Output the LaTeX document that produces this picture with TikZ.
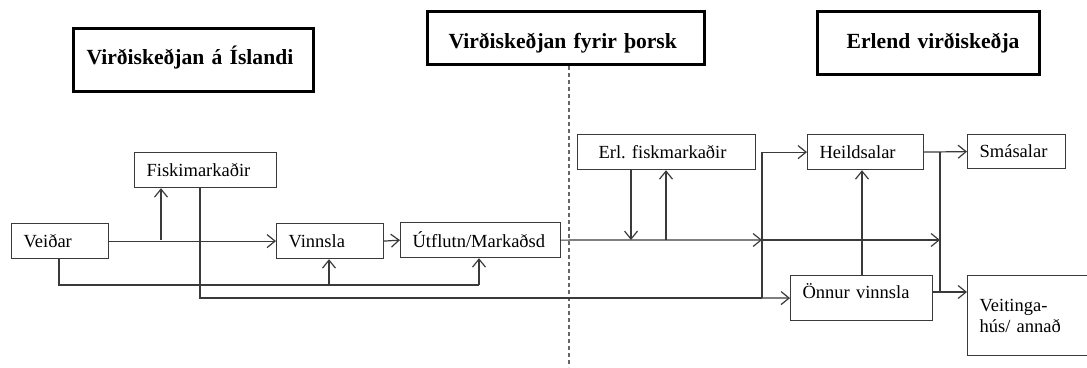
\documentclass[tikz,border=0pt]{standalone}
\usepackage{fontspec}
\setmainfont{Liberation Serif}
\usetikzlibrary{arrows.meta,calc}
\definecolor{ln}{HTML}{3A3A3A}
\tikzset{
  arr/.style={draw=ln,line width=1.2pt,-{Straight Barb[length=8pt,width=13pt,line width=1.2pt]}},
  ln/.style={draw=ln,line width=1.2pt},
  bx/.style={draw=ln,line width=1.2pt,rectangle,anchor=north west,inner xsep=12pt,inner ysep=0pt,align=left,
     font=\fontsize{18.5}{21}\selectfont},
  tb/.style={draw=black,line width=3pt,rectangle,anchor=north west,inner ysep=0pt,
     font=\fontsize{21.6}{24}\selectfont\bfseries}
}
\begin{document}
\begin{tikzpicture}[x=1pt,y=-1pt]
\useasboundingbox (0,0) rectangle (1087,367);
\begin{scope}
\clip (0,0) rectangle (1087,367);
% title boxes
\node[tb,inner xsep=13pt,text width=214pt,minimum height=63pt,align=left,text height=14.5pt,text depth=4.7pt] (t1) at (72,27) {Virðiskeðjan á Íslandi};
\node[tb,inner xsep=21pt,text width=235pt,minimum height=53pt,align=left,text height=25pt,text depth=4.6pt] (t2) at (426,10) {Virðiskeðjan fyrir þorsk};
\node[tb,inner xsep=20pt,text width=182pt,minimum height=63pt,align=right] (t3) at (816,10) {Erlend virðiskeðja};
% dashed divider
\coordinate (dv) at (569,367);
\draw[draw=gray!80!black,line width=1.1pt,dash pattern=on 4pt off 3pt] (t2.south -| dv) -- (dv);
% process boxes
\node[bx,text width=118pt,minimum height=35pt] (fm) at (134,152) {Fiskimarkaðir};
\node[bx,text width=73pt,minimum height=35pt] (vd) at (11,223) {Veiðar};
\node[bx,text width=83pt,minimum height=35pt] (vn) at (276,223) {Vinnsla};
\node[bx,text width=136pt,minimum height=35pt] (ut) at (400,222) {Útflutn/Markaðsd};
\node[bx,inner xsep=21pt,text width=136pt,minimum height=35pt] (ef) at (577,134) {Erl.\ fiskmarkaðir};
\node[bx,text width=92pt,minimum height=35pt] (hs) at (807,134) {Heildsalar};
\node[bx,text width=74pt,minimum height=34pt] (sm) at (967,134) {Smásalar};
\node[bx,text width=118pt,minimum height=45pt,text depth=15pt] (on) at (790,275) {Önnur vinnsla};
\node[bx,text width=98pt,minimum height=80pt] (vt) at (967,275) {Veitinga-\\hús/ annað};
% junction coordinates
\coordinate (j1) at (161,240);
\coordinate (j2) at (59,285);
\coordinate (j3) at (329,285);
\coordinate (j4) at (479,285);
\coordinate (j5) at (200,298);
\coordinate (j6) at (631,240);
\coordinate (j7) at (666,240);
\coordinate (j8) at (762,240);
\coordinate (j9) at (762,298);
\coordinate (j10) at (940,240);
\coordinate (j11) at (940,152);
\coordinate (j12) at (940,292);
\coordinate (j13) at (862,240);
% connectors
\draw[arr] (vd.east) -- (vn.west);
\draw[arr] (j1) -- (j1 |- fm.south);
\draw[ln] (vd.south -| j2) -- (j2) -- (j4);
\draw[arr] (j4) -- (j4 |- ut.south);
\draw[arr] (j3) -- (j3 |- vn.south);
\draw[ln] (fm.south -| j5) -- (j5) -- (j9);
\draw[arr] (j9) -- (on.west);
\draw[arr] (vn.east) -- (ut.west);
\draw[arr] (ut.east) -- (j8);
\draw[arr] (j8) -- (j10);
\draw[arr] (ef.south -| j6) -- (j6);
\draw[arr] (j7) -- (j7 |- ef.south);
\draw[ln] (j9) -- (j8) -- (j8 |- hs.west);
\draw[arr] (j8 |- hs.west) -- (hs.west);
\draw[arr] (on.north -| j13) -- (hs.south -| j13);
\draw[arr] (hs.east) -- (sm.west);
\draw[ln] (j11) -- (j12);
\draw[arr] (on.east |- j12) -- (vt.west |- j12);
\end{scope}
\end{tikzpicture}
\end{document}
